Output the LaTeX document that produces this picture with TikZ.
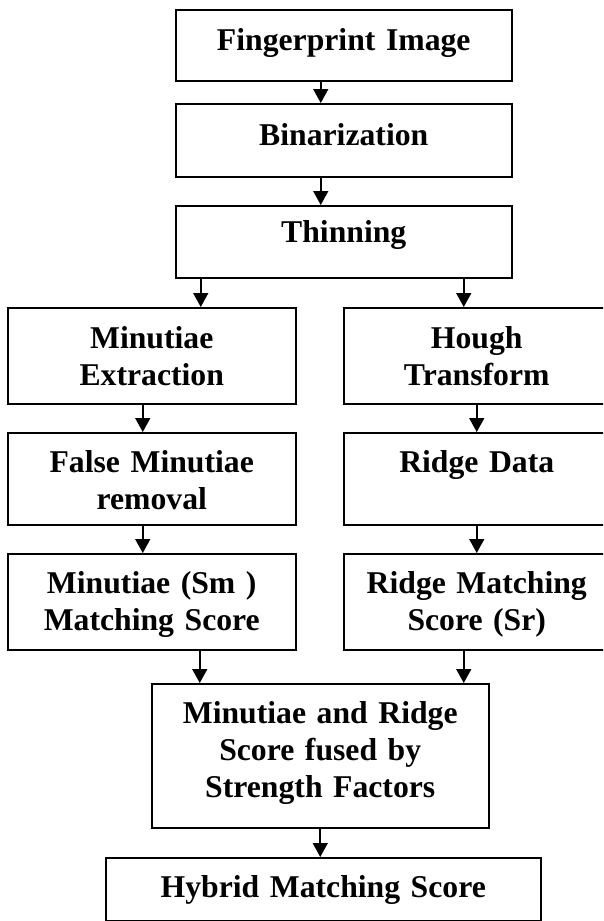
\documentclass[tikz,border=0pt]{standalone}
\usepackage{fontspec}
\setmainfont{Liberation Serif}
\usetikzlibrary{arrows.meta}

\begin{document}
\begin{tikzpicture}[
    x=1pt, y=-1pt,
    stage/.style={draw, line width=1.5pt, anchor=north west, inner sep=0pt,
        align=center, font=\fontsize{31.7}{37}\selectfont\bfseries},
    flow/.style={-{Triangle[length=14pt,width=15pt]}, line width=1.6pt}
]
\useasboundingbox (0,0) rectangle (603,921);
\clip (0,0) rectangle (603,921);

% Common trunk
\node[stage, text width=336pt, text height=41pt, text depth=30pt] (img) at (175,9) {Fingerprint Image};
\node[stage, text width=336pt, text height=42pt, text depth=31pt] (bin) at (175,103) {Binarization};
\node[stage, text width=336pt, text height=37pt, text depth=35pt] (thin) at (175,205) {Thinning};

% Minutiae branch
\node[stage, text width=288pt, text height=41pt, text depth=55pt] (mex) at (7,307) {Minutiae\\Extraction};
\node[stage, text width=288pt, text height=40pt, text depth=52pt] (mfalse) at (7,432) {False Minutiae\\removal};
\node[stage, text width=288pt, text height=40pt, text depth=56pt] (msc) at (7,553) {Minutiae (Sm )\\Matching Score};

% Ridge branch
\node[stage, text width=266pt, text height=41pt, text depth=55pt] (hough) at (343,307) {Hough\\Transform};
\node[stage, text width=266pt, text height=40pt, text depth=52pt] (rdata) at (343,432) {Ridge Data};
\node[stage, text width=266pt, text height=40pt, text depth=56pt] (rsc) at (343,553) {Ridge Matching\\Score (Sr)};

% Fusion
\node[stage, text width=337pt, text height=40pt, text depth=104pt] (fus) at (151,683) {Minutiae and Ridge\\Score fused by\\Strength Factors};
\node[stage, text width=435pt, text height=40pt, text depth=23pt] (hyb) at (105,857) {Hybrid Matching Score};

% Arrows
\draw[flow] ([xshift=-23pt]img.south) -- ([xshift=-23pt]img.south |- bin.north);
\draw[flow] ([xshift=-23pt]bin.south) -- ([xshift=-23pt]bin.south |- thin.north);
\draw[flow] ([xshift=-143pt]thin.south) -- ([xshift=-143pt]thin.south |- mex.north);
\draw[flow] ([xshift=120pt]thin.south) -- ([xshift=120pt]thin.south |- hough.north);
\draw[flow] ([xshift=-9pt]mex.south) -- ([xshift=-9pt]mex.south |- mfalse.north);
\draw[flow] ([xshift=-9pt]mfalse.south) -- ([xshift=-9pt]mfalse.south |- msc.north);
\draw[flow] (hough.south) -- (rdata.north);
\draw[flow] (rdata.south) -- (rsc.north);
\draw[flow] ([xshift=48pt]msc.south) -- ([xshift=48pt]msc.south |- fus.north);
\draw[flow] ([xshift=-13pt]rsc.south) -- ([xshift=-13pt]rsc.south |- fus.north);
\draw[flow] (fus.south) -- (fus.south |- hyb.north);

\end{tikzpicture}
\end{document}
